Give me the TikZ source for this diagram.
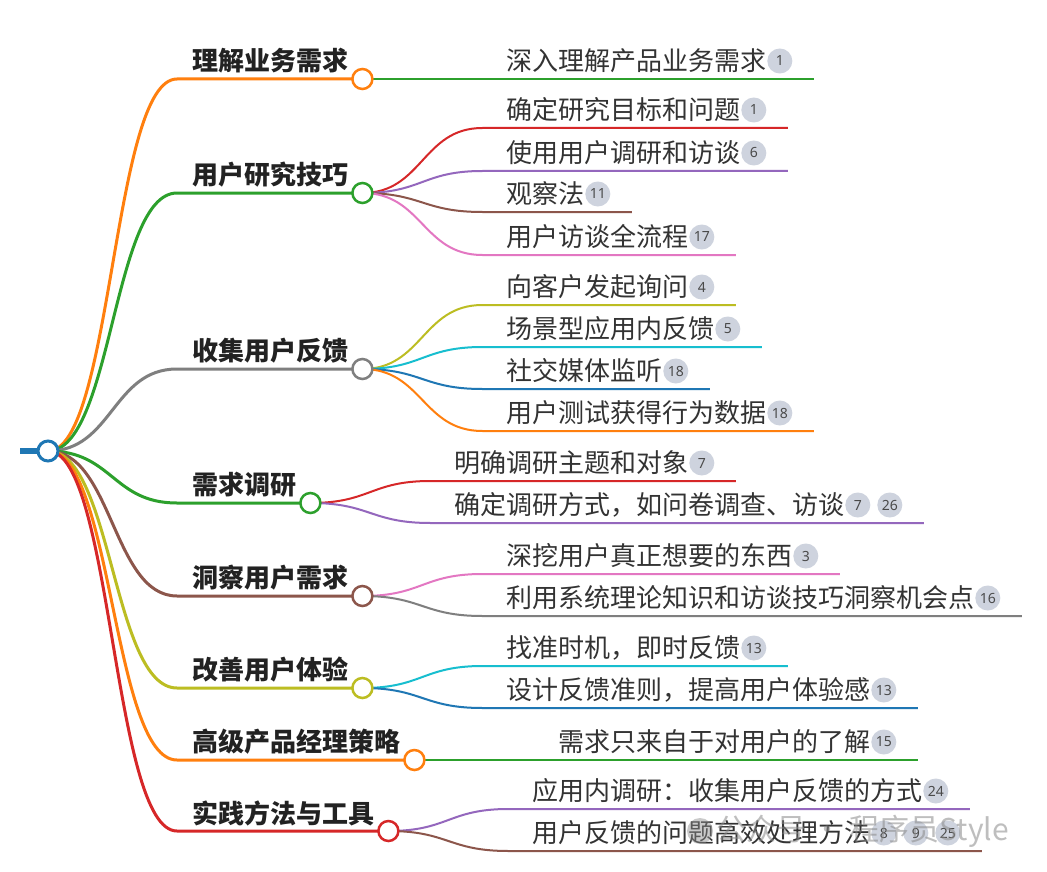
\documentclass[tikz,border=0pt]{standalone}
\usepackage{fontspec}
\newfontfamily\cjk{Noto Sans CJK SC}
\newfontfamily\numf{Noto Sans}
\usetikzlibrary{calc}
\pgfdeclarelayer{bg}
\pgfdeclarelayer{paper}
\pgfsetlayers{paper,bg,main}
\definecolor{cBlue}{HTML}{1F77B4}
\definecolor{cOrange}{HTML}{FF7F0E}
\definecolor{cGreen}{HTML}{2CA02C}
\definecolor{cRed}{HTML}{D62728}
\definecolor{cPurple}{HTML}{9467BD}
\definecolor{cBrown}{HTML}{8C564B}
\definecolor{cPink}{HTML}{E377C2}
\definecolor{cGray}{HTML}{7F7F7F}
\definecolor{cOlive}{HTML}{BCBD22}
\definecolor{cCyan}{HTML}{17BECF}
\definecolor{txtA}{HTML}{222222}
\definecolor{txtB}{HTML}{333333}
\definecolor{badgeC}{HTML}{CED3DE}
\definecolor{numC}{HTML}{4A4A4A}
\definecolor{wmC}{HTML}{8A8A8A}
\tikzset{
  l1text/.style={anchor=west, inner sep=0, text=txtA, font=\cjk\bfseries\fontsize{26}{30}\selectfont},
  l2text/.style={anchor=west, inner sep=0, text=txtB, font=\cjk\fontsize{26}{30}\selectfont},
  l1line/.style={line width=3},
  l2line/.style={line width=2},
  l1circ/.style={circle, fill=white, line width=2.5, minimum size=20, inner sep=0},
  badge/.style={circle, fill=badgeC, minimum size=25, inner sep=0, text=numC, font=\numf\fontsize{14}{14}\selectfont},
  wmtext/.style={anchor=west, inner sep=0, text=wmC, opacity=0.55, font=\cjk\fontsize{30}{34}\selectfont},
}
\newcommand\Lone[4]{%
  \node[l1text] (#1t) at (192,#2-18) {#4};
  \node[l1circ, draw=#3] (#1) at ($(#1t.east)+(14,18)$) {};
  \coordinate (#1s) at (177,#2);
  \begin{pgfonlayer}{bg}
  \draw[l1line, #3] (root.center) .. controls ($(root.center)+(64.5,0)$) and ($(#1s)+(-64.5,0)$) .. (#1s) -- (#1.center);
  \end{pgfonlayer}
}
\newcommand\Ltwo[6]{%
  \path (#1.center) ++(120,0) coordinate (#2x);
  \coordinate (#2s) at (#2x |- 0,#3);
  \node[l2text] (#2t) at ($(#2s)+(24,-18)$) {#5};
  \foreach \b [count=\i] in {#6}{\node[badge] (#2b\i) at ($(#2t.east)+(13+32*\i-32,0)$) {\b}; \xdef\lastb{\i}}
  \coordinate (#2e) at ($(#2b\lastb.center)+(34,18)$);
  \begin{pgfonlayer}{bg}
  \draw[l2line, #4] (#1.center) .. controls ($(#1.center)+(60,0)$) and ($(#2s)+(-60,0)$) .. (#2s) -- (#2e);
  \end{pgfonlayer}
}
\begin{document}
\begin{tikzpicture}[x=1pt,y=-1pt]
\begin{pgfonlayer}{paper}
\fill[white] (0,0) rectangle (1047,872);
\end{pgfonlayer}
\useasboundingbox (0,0) rectangle (1047,872);
\node[circle, draw=cBlue, fill=white, line width=3, minimum size=20, inner sep=0] (root) at (48,451) {};
\coordinate (stub) at (20,451);
\begin{pgfonlayer}{bg}
\draw[cBlue, line width=6] (stub) -- (root.center);
\end{pgfonlayer}

\Lone{c1}{79}{cOrange}{理解业务需求}
\Lone{c2}{193}{cGreen}{用户研究技巧}
\Lone{c3}{369}{cGray}{收集用户反馈}
\Lone{c4}{503}{cGreen}{需求调研}
\Lone{c5}{596}{cBrown}{洞察用户需求}
\Lone{c6}{688}{cOlive}{改善用户体验}
\Lone{c7}{760}{cOrange}{高级产品经理策略}
\Lone{c8}{831}{cRed}{实践方法与工具}

\Ltwo{c1}{a1}{79}{cGreen}{深入理解产品业务需求}{1}
\Ltwo{c2}{b1}{128}{cRed}{确定研究目标和问题}{1}
\Ltwo{c2}{b2}{171}{cPurple}{使用用户调研和访谈}{6}
\Ltwo{c2}{b3}{212}{cBrown}{观察法}{11}
\Ltwo{c2}{b4}{255}{cPink}{用户访谈全流程}{17}
\Ltwo{c3}{d1}{305}{cOlive}{向客户发起询问}{4}
\Ltwo{c3}{d2}{347}{cCyan}{场景型应用内反馈}{5}
\Ltwo{c3}{d3}{389}{cBlue}{社交媒体监听}{18}
\Ltwo{c3}{d4}{431}{cOrange}{用户测试获得行为数据}{18}
\Ltwo{c4}{e1}{481}{cRed}{明确调研主题和对象}{7}
\Ltwo{c4}{e2}{523}{cPurple}{确定调研方式，如问卷调查、访谈}{7,26}
\Ltwo{c5}{f1}{574}{cPink}{深挖用户真正想要的东西}{3}
\Ltwo{c5}{f2}{616}{cGray}{利用系统理论知识和访谈技巧洞察机会点}{16}
\Ltwo{c6}{g1}{666}{cCyan}{找准时机，即时反馈}{13}
\Ltwo{c6}{g2}{708}{cBlue}{设计反馈准则，提高用户体验感}{13}
\Ltwo{c7}{h1}{760}{cGreen}{需求只来自于对用户的了解}{15}
\Ltwo{c8}{k1}{809}{cPurple}{应用内调研：收集用户反馈的方式}{24}
\Ltwo{c8}{k2}{851}{cBrown}{用户反馈的问题高效处理方法}{8,9,25}

\node[circle, fill=wmC, opacity=0.45, minimum size=26, inner sep=0] (wmi) at (700,831) {};
\node[wmtext] (wm) at (716,831) {公众号 · 程序员Style};
\end{tikzpicture}
\end{document}
